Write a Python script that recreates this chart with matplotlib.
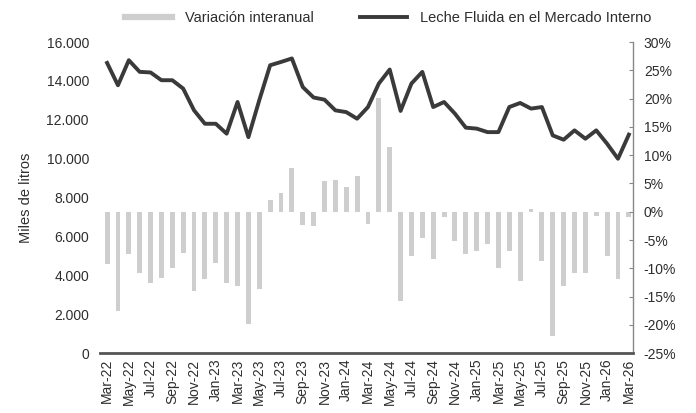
import matplotlib.pyplot as plt
import numpy as np

plt.rcParams['font.family'] = ['Liberation Sans', 'DejaVu Sans']

# Monthly series, Mar-22 .. Mar-26
months = ['Mar-22', 'Apr-22', 'May-22', 'Jun-22', 'Jul-22', 'Aug-22', 'Sep-22', 'Oct-22',
          'Nov-22', 'Dec-22', 'Jan-23', 'Feb-23', 'Mar-23', 'Apr-23', 'May-23', 'Jun-23',
          'Jul-23', 'Aug-23', 'Sep-23', 'Oct-23', 'Nov-23', 'Dec-23', 'Jan-24', 'Feb-24',
          'Mar-24', 'Apr-24', 'May-24', 'Jun-24', 'Jul-24', 'Aug-24', 'Sep-24', 'Oct-24',
          'Nov-24', 'Dec-24', 'Jan-25', 'Feb-25', 'Mar-25', 'Apr-25', 'May-25', 'Jun-25',
          'Jul-25', 'Aug-25', 'Sep-25', 'Oct-25', 'Nov-25', 'Dec-25', 'Jan-26', 'Feb-26',
          'Mar-26']

# Leche fluida en el mercado interno (miles de litros)
leche = [14930, 13780, 15070, 14470, 14440, 14040, 14040, 13610,
         12490, 11800, 11800, 11290, 12920, 11110, 13010, 14810,
         14980, 15160, 13690, 13150, 13040, 12490, 12400, 12060,
         12660, 13870, 14590, 12460, 13870, 14470, 12660, 12920,
         12320, 11600, 11550, 11370, 11370, 12660, 12870, 12580,
         12660, 11200, 10980, 11460, 11030, 11460, 10770, 10000,
         11240]

# Variacion interanual (%)
variacion = [-9.2, -17.5, -7.5, -10.8, -12.6, -11.7, -9.9, -7.3,
             -14.0, -11.9, -9.0, -12.6, -13.1, -19.9, -13.7, 2.0,
             3.3, 7.7, -2.3, -2.6, 5.5, 5.6, 4.3, 6.4,
             -2.1, 20.2, 11.4, -15.8, -7.8, -4.6, -8.4, -1.0,
             -5.1, -7.5, -6.9, -5.7, -9.9, -6.9, -12.2, 0.5,
             -8.7, -22.0, -13.1, -10.8, -10.8, -0.7, -7.8, -11.9,
             -1.0]

x = np.arange(len(months))
text_col = '#2e2e2e'
bar_col = '#cecece'
line_col = '#3a3a3a'

fig = plt.figure(figsize=(6.96, 4.13), dpi=100)
ax = fig.add_axes([0.1437, 0.145, 0.7653, 0.753])
ax2 = ax.twinx()

# bars on the right axis, line on the left axis drawn above
ax2.bar(x, variacion, width=0.45, color=bar_col, zorder=1)
ax.set_zorder(ax2.get_zorder() + 1)
ax.patch.set_visible(False)
ax.plot(x, leche, color=line_col, linewidth=2.8, solid_joinstyle='round', zorder=3)

ax.set_xlim(-0.65, 48.35)
ax.set_ylim(0, 16000)
ax2.set_ylim(-25, 30)

ax.set_yticks(np.arange(0, 16001, 2000))
ax.set_yticklabels([f'{v:,}'.replace(',', '.') for v in range(0, 16001, 2000)])
ax2.set_yticks(np.arange(-25, 31, 5))
ax2.set_yticklabels([f'{v}%' for v in range(-25, 31, 5)])

ax.set_xticks(x[::2])
ax.set_xticklabels(months[::2], rotation=90)

for a in (ax, ax2):
    for s in ('top', 'left'):
        a.spines[s].set_visible(False)
ax.spines['right'].set_visible(False)
ax2.spines['bottom'].set_visible(False)
ax.spines['bottom'].set_color('#555555')
ax.spines['bottom'].set_linewidth(2)
ax2.spines['right'].set_color('#888888')
ax2.spines['right'].set_linewidth(1)

ax.tick_params(axis='y', length=0, pad=8, labelsize=10, colors=text_col)
ax.tick_params(axis='x', length=0, pad=4, labelsize=10, colors=text_col)
ax2.tick_params(axis='y', direction='in', length=3, color='#888888', pad=8,
                labelsize=10, labelcolor=text_col)

ax.set_ylabel('Miles de litros', fontsize=10.5, color=text_col, labelpad=10)

# legend on top
h1 = plt.Line2D([], [], color=bar_col, linewidth=4.5)
h2 = plt.Line2D([], [], color=line_col, linewidth=2.8)
fig.legend([h1, h2], ['Variación interanual', 'Leche Fluida en el Mercado Interno'],
           loc='center', bbox_to_anchor=(0.558, 0.956), ncol=2, frameon=False,
           fontsize=10.5, handlelength=3.2, handletextpad=0.9, columnspacing=3.2,
           labelcolor=text_col)

fig.savefig('out.png', dpi=100)
